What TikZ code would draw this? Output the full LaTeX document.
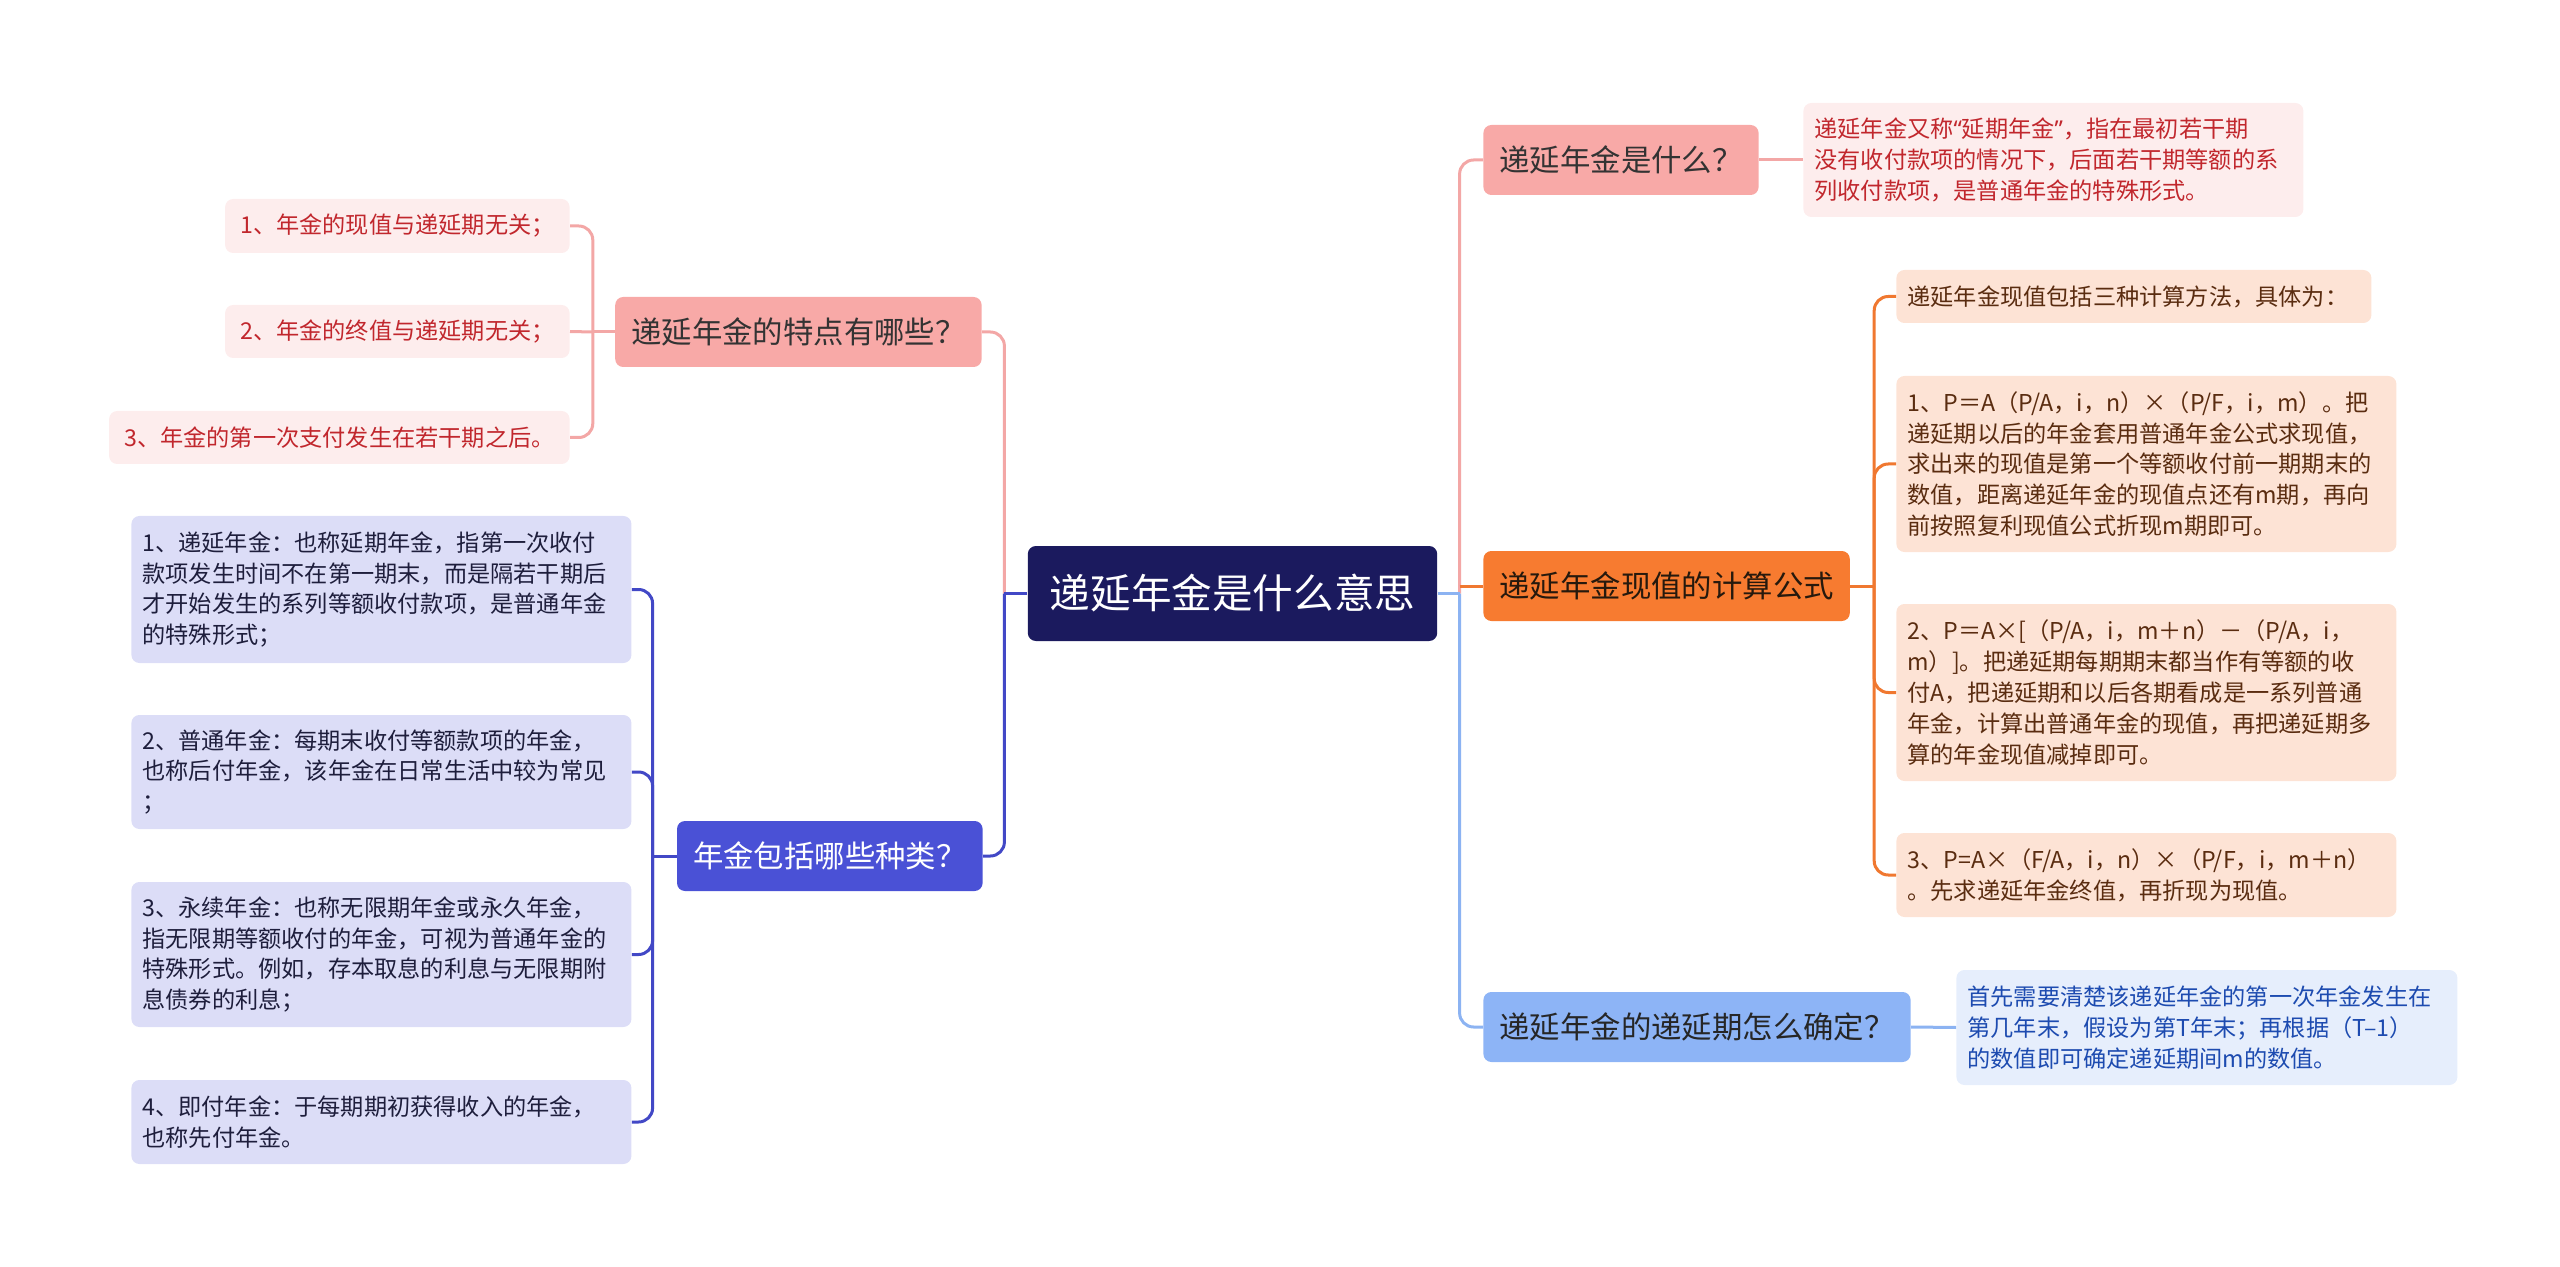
\documentclass[tikz,border=0pt]{standalone}
\usepackage{fontspec}
\setmainfont{Noto Sans CJK SC}
\newfontfamily\latinfont{Noto Sans}
\usepackage{tikz}
\usetikzlibrary{positioning}

\definecolor{rootfill}{HTML}{1B1A5E}
\definecolor{pinkfill}{HTML}{F8A9A7}
\definecolor{pinkleaf}{HTML}{FDEDED}
\definecolor{pinktext}{HTML}{C1272D}
\definecolor{pinkline}{HTML}{F3A7A6}
\definecolor{bluefill}{HTML}{4A51D6}
\definecolor{blueleaf}{HTML}{DCDDF7}
\definecolor{bluetext}{HTML}{1E1E3C}
\definecolor{blueline}{HTML}{4248C6}
\definecolor{orangefill}{HTML}{F77B30}
\definecolor{orangeleaf}{HTML}{FDE3D5}
\definecolor{orangetext}{HTML}{5A2C10}
\definecolor{orangeline}{HTML}{F07830}
\definecolor{skyfill}{HTML}{8DB4F6}
\definecolor{skyleaf}{HTML}{E6EEFC}
\definecolor{skytext}{HTML}{1D4BB0}
\definecolor{skyline}{HTML}{8CB3F2}

\newcommand{\rootfont}{\fontsize{20.3pt}{24pt}\selectfont}
\newcommand{\topicfont}{\fontsize{15.2pt}{18pt}\selectfont}
\newcommand{\leaffont}{\fontsize{11.6pt}{15.4pt}\selectfont}

\begin{document}
\begin{tikzpicture}[x=0.5pt, y=-0.5pt,
	rootbox/.style={fill=rootfill, text=white, rounded corners=4pt, inner xsep=11pt, minimum height=47.5pt, font=\rootfont},
	topicbox/.style={rounded corners=4pt, inner xsep=8pt, inner ysep=0pt, minimum height=35pt, font=\topicfont},
	leafbox/.style={rounded corners=4pt, inner xsep=5.5pt, inner ysep=0pt, align=left, font=\leaffont},
	link/.style={line width=1.5pt, rounded corners=7pt}]
	\useasboundingbox (0,0) rectangle (2560,1267);

	\node[rootbox] (root) at (1232.5,593.5) {递延年金是什么意思};

	\node[topicbox, fill=pinkfill, text=black!80, anchor=east] (L1) at (982,332) {递延年金的特点有哪些？};
	\node[topicbox, fill=bluefill, text=white, anchor=east] (L2) at (983,856) {年金包括哪些种类？};
	\node[topicbox, fill=pinkfill, text=black!80, anchor=west] (R1) at (1483,160) {递延年金是什么？};
	\node[topicbox, fill=orangefill, text=black!80!brown, anchor=west] (R2) at (1483,586) {递延年金现值的计算公式};
	\node[topicbox, fill=skyfill, text=black!85, anchor=west, minimum width=213.5pt] (R3) at (1483,1027) {递延年金的递延期怎么确定？};

	\node[leafbox, fill=pinkleaf, text=pinktext, anchor=east, inner xsep=7.5pt, minimum height=27pt] (P1) at (570,226) {1、年金的现值与递延期无关；};
	\node[leafbox, fill=pinkleaf, text=pinktext, anchor=east, inner xsep=7.5pt, minimum height=26.5pt] (P2) at (570,331.5) {2、年金的终值与递延期无关；};
	\node[leafbox, fill=pinkleaf, text=pinktext, anchor=east, inner xsep=7.5pt, minimum height=26.5pt] (P3) at (570,437.5) {3、年金的第一次支付发生在若干期之后。};

	\node[leafbox, fill=blueleaf, text=bluetext, anchor=west, text width=239pt, minimum height=73.5pt] (B1) at (131,589.5) {1、递延年金：也称延期年金，指第一次收付\\款项发生时间不在第一期末，而是隔若干期后\\才开始发生的系列等额收付款项，是普通年金\\的特殊形式；};
	\node[leafbox, fill=blueleaf, text=bluetext, anchor=west, text width=239pt, minimum height=57pt] (B2) at (131,772) {2、普通年金：每期末收付等额款项的年金，\\也称后付年金，该年金在日常生活中较为常见\\；};
	\node[leafbox, fill=blueleaf, text=bluetext, anchor=west, text width=239pt, minimum height=72.5pt] (B3) at (131,954.5) {3、永续年金：也称无限期年金或永久年金，\\指无限期等额收付的年金，可视为普通年金的\\特殊形式。例如，存本取息的利息与无限期附\\息债券的利息；};
	\node[leafbox, fill=blueleaf, text=bluetext, anchor=west, text width=239pt, minimum height=42pt] (B4) at (131,1122) {4、即付年金：于每期期初获得收入的年金，\\也称先付年金。};

	\node[leafbox, fill=pinkleaf, text=pinktext, anchor=west, text width=239pt, minimum height=57pt] (W1) at (1803,160) {递延年金又称{\latinfont “}延期年金{\latinfont ”}，指在最初若干期\\没有收付款项的情况下，后面若干期等额的系\\列收付款项，是普通年金的特殊形式。};

	\node[leafbox, fill=orangeleaf, text=orangetext, anchor=west, text width=226.5pt, minimum height=26.5pt] (O1) at (1896,296.5) {递延年金现值包括三种计算方法，具体为：};
	\node[leafbox, fill=orangeleaf, text=orangetext, anchor=west, text width=239pt, minimum height=88pt] (O2) at (1896,464) {1、P＝A（P/A，i，n）×（P/F，i，m）。把\\递延期以后的年金套用普通年金公式求现值，\\求出来的现值是第一个等额收付前一期期末的\\数值，距离递延年金的现值点还有m期，再向\\前按照复利现值公式折现m期即可。};
	\node[leafbox, fill=orangeleaf, text=orangetext, anchor=west, text width=239pt, minimum height=88.5pt] (O3) at (1896,692.5) {2、P＝A×[（P/A，i，m＋n）－（P/A，i，\\m）]。把递延期每期期末都当作有等额的收\\付A，把递延期和以后各期看成是一系列普通\\年金，计算出普通年金的现值，再把递延期多\\算的年金现值减掉即可。};
	\node[leafbox, fill=orangeleaf, text=orangetext, anchor=west, text width=239pt, minimum height=42pt] (O4) at (1896,875) {3、P=A×（F/A，i，n）×（P/F，i，m＋n）\\。先求递延年金终值，再折现为现值。};

	\node[leafbox, fill=skyleaf, text=skytext, anchor=west, text width=239.5pt, minimum height=57.5pt] (D1) at (1956,1027.5) {首先需要清楚该递延年金的第一次年金发生在\\第几年末，假设为第T年末；再根据（T–1）\\的数值即可确定递延期间m的数值。};

	\coordinate (lsplit) at ([xshift=-11.5pt]root.west);
	\coordinate (rsplit) at ([xshift=11pt]root.east);
	\coordinate (psplit) at ([xshift=-11pt]L1.west);
	\coordinate (bsplit) at ([xshift=-12pt]L2.west);
	\coordinate (osplit) at ([xshift=12pt]R2.east);

	\draw[link, pinkline] (lsplit) |- (L1.east);
	\draw[link, blueline] (lsplit) |- (L2.east);
	\draw[link, blueline] (root.west) -- (lsplit);
	\draw[link, pinkline] (rsplit) |- (R1.west);
	\draw[link, orangeline] (R2.west -| rsplit) -- (R2.west);
	\draw[link, skyline] (rsplit) |- (R3.west);
	\draw[link, skyline] (root.east) -- (rsplit);

	\draw[link, pinkline] (L1.west) -- (psplit);
	\foreach \n in {P1,P3} \draw[link, pinkline] (psplit) |- (\n.east);
	\draw[link, pinkline] (psplit) -- (P2.east);
	\draw[link, blueline] (L2.west) -- (bsplit);
	\foreach \n in {B1,B2,B3,B4} \draw[link, blueline] (bsplit) |- (\n.east);
	\draw[link, pinkline] (R1.east) -- (W1.west);
	\draw[link, orangeline] (R2.east) -- (osplit);
	\foreach \n in {O1,O2,O3,O4} \draw[link, orangeline] (osplit) |- (\n.west);
	\draw[link, skyline] (R3.east) -- (D1.west);
\end{tikzpicture}
\end{document}
